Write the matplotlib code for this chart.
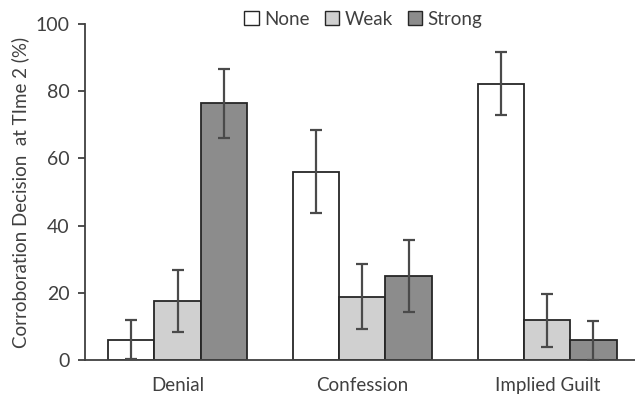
import numpy as np
import matplotlib.pyplot as plt
from matplotlib.patches import Patch

plt.rcParams['font.family'] = ['Lato', 'DejaVu Sans']

categories = ['Denial', 'Confession', 'Implied Guilt']
series = ['None', 'Weak', 'Strong']
none_vals = [6.0, 56.1, 82.3]
weak_vals = [17.6, 18.8, 11.8]
strong_vals = [76.4, 25.0, 5.9]
none_err = [5.8, 12.3, 9.3]
weak_err = [9.2, 9.7, 7.8]
strong_err = [10.3, 10.7, 5.8]

colors = ['#ffffff', '#d0d0d0', '#8c8c8c']
text_c = '#404040'

fig = plt.figure(figsize=(6.35, 3.98), dpi=100)
ax = fig.add_axes([0.134, 0.0955, 0.866, 0.844])

x = np.arange(len(categories))
w = 0.25
for i, (vals, errs) in enumerate([(none_vals, none_err), (weak_vals, weak_err),
                                   (strong_vals, strong_err)]):
    pos = x + (i - 1) * w
    ax.bar(pos, vals, w, color=colors[i], edgecolor='#262626', linewidth=1.3, zorder=2)
    ax.errorbar(pos, vals, yerr=errs, fmt='none', ecolor='#4a4a4a',
                elinewidth=1.6, capsize=4, capthick=1.6, zorder=3)

ax.set_xlim(-0.5, 2.475)
ax.set_ylim(0, 100)
ax.set_yticks([0, 20, 40, 60, 80, 100])
ax.set_xticks(x)
ax.set_xticklabels(categories)
ax.tick_params(axis='x', length=0, pad=12, labelsize=13.5, labelcolor=text_c)
ax.tick_params(axis='y', length=5, width=1.3, color='#404040', pad=6,
               labelsize=14, labelcolor=text_c, direction='out')
for s in ['top', 'right']:
    ax.spines[s].set_visible(False)
for s in ['left', 'bottom']:
    ax.spines[s].set_color('#404040')
    ax.spines[s].set_linewidth(1.3)
ax.set_ylabel('Corroboration Decision  at TIme 2 (%)', fontsize=13.5,
              color=text_c, labelpad=5)

handles = [Patch(facecolor=c, edgecolor='#262626', linewidth=1.0) for c in colors]
fig.legend(handles, series, loc='upper center', bbox_to_anchor=(0.572, 1.015),
           ncol=3, frameon=False, fontsize=13.5, handlelength=0.75,
           handleheight=0.75, handletextpad=0.3, columnspacing=0.8,
           labelcolor=text_c)

fig.savefig('out.png', dpi=100)
